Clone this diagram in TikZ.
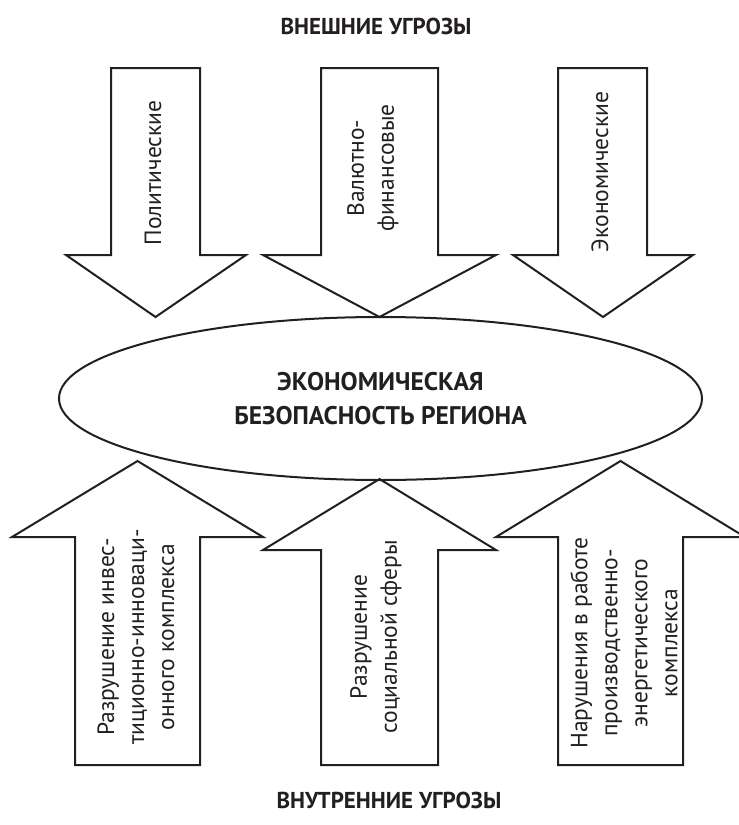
\documentclass[tikz,border=0pt]{standalone}
\usepackage{fontspec}
\setmainfont{PT Sans}
\usetikzlibrary{shapes.geometric}
\definecolor{ink}{HTML}{231F20}
\begin{document}
\begin{tikzpicture}[x=1pt,y=-1pt,
  arrowshape/.style={draw=ink, line width=2pt, line join=miter},
  lbl/.style={rotate=90, align=center, text=ink, inner sep=0pt,
    font=\fontsize{23.5}{30}\selectfont},
  ttl/.style={text=ink, inner sep=0pt, font=\bfseries\fontsize{23}{27}\selectfont},
  core/.style={draw=ink, line width=2pt, ellipse, inner sep=0pt,
    minimum width=643pt, minimum height=163pt, align=center, text=ink,
    font=\bfseries\fontsize{25.5}{34}\selectfont}]
\useasboundingbox (0,0) rectangle (739,825);
\clip (0,0) rectangle (739,825);

% titles
\node[ttl] (ext) at (376,26) {ВНЕШНИЕ УГРОЗЫ};
\node[ttl] (int) at (389,800) {ВНУТРЕННИЕ УГРОЗЫ};

% central ellipse
\node[core] (sec) at (380.5,398.5) {ЭКОНОМИЧЕСКАЯ\\БЕЗОПАСНОСТЬ РЕГИОНА};

% top arrows (pointing down)
\draw[arrowshape] (111,68) -- (200,68) -- (200,255) -- (246,255) -- (155.5,317)
  -- (66,255) -- (111,255) -- cycle;
\draw[arrowshape] (321,68) -- (438,68) -- (438,255) -- (496,255) -- (379.5,317)
  -- (263,255) -- (321,255) -- cycle;
\draw[arrowshape] (558,68) -- (647,68) -- (647,255) -- (693,255) -- (603,317)
  -- (513,255) -- (558,255) -- cycle;

% bottom arrows (pointing up)
\draw[arrowshape] (75,765) -- (200,765) -- (200,537) -- (263,537) -- (137.5,461)
  -- (12,537) -- (75,537) -- cycle;
\draw[arrowshape] (321,765) -- (438,765) -- (438,550) -- (496,550) -- (379.5,479)
  -- (263,550) -- (321,550) -- cycle;
\draw[arrowshape] (558,765) -- (683,765) -- (683,537) -- (745,537) -- (620.5,461)
  -- (496,537) -- (558,537) -- cycle;

% labels
\node[lbl] (t1) at (153,173) {Политические};
\node[lbl] (t2) at (373,168) {Валютно-\\финансовые};
\node[lbl] (t3) at (600,172) {Экономические};
\node[lbl] (b1) at (136,637) {Разрушение инвес-\\тиционно-инноваци-\\онного комплекса};
\node[lbl] (b2) at (376,637) {Разрушение\\социальной сферы};
\node[lbl] (b3) at (624,643) {Нарушения в работе\\производственно-\\энергетического\\комплекса};
\end{tikzpicture}
\end{document}
